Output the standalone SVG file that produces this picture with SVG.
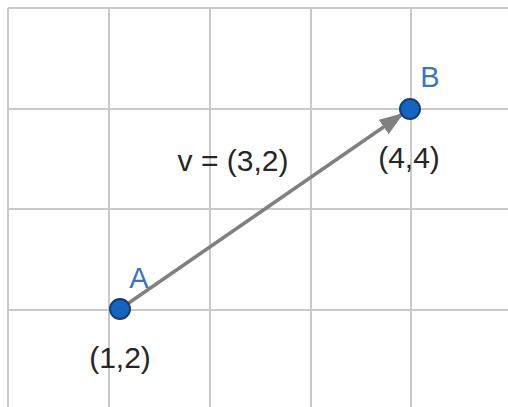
<svg xmlns="http://www.w3.org/2000/svg" width="508" height="407" viewBox="0 0 508 407">
<defs>
<style>
.grid{stroke:#c9c9c9;stroke-width:2;fill:none}
.lbl{font-family:"Liberation Sans",Arial,sans-serif;font-size:30px;fill:#262626}
.name{font-family:"Liberation Sans",Arial,sans-serif;font-size:29px;fill:#3c74c2}
.pt{fill:#1565c0;stroke:#173d73;stroke-width:2}
.vec{stroke:#808080;stroke-width:3.5;fill:none}
</style>
<marker id="ah" markerWidth="7" markerHeight="5" refX="6" refY="2.5" orient="auto" markerUnits="strokeWidth">
<path d="M0,0 L7,2.5 L0,5 Z" fill="#808080"/>
</marker>
</defs>
<rect width="508" height="407" fill="#ffffff"/>
<g id="grid">
<path class="grid" d="M8,8 V407 M109,8 V407 M210,8 V407 M311,8 V407 M411,8 V407 M8,8 H508 M8,109 H508 M8,209 H508 M8,310 H508"/>
</g>
<g id="connectors">
<line class="vec" x1="120" y1="309" x2="401" y2="115" marker-end="url(#ah)"/>
</g>
<g id="label-v">
<text class="lbl" x="233" y="171" text-anchor="middle">v = (3,2)</text>
</g>
<g id="point-A">
<circle class="pt" cx="120" cy="309" r="10"/>
<text class="name" x="139" y="288" text-anchor="middle">A</text>
<text class="lbl" x="120" y="368" text-anchor="middle">(1,2)</text>
</g>
<g id="point-B">
<circle class="pt" cx="410" cy="109" r="10"/>
<text class="name" x="430" y="87" text-anchor="middle">B</text>
<text class="lbl" x="409" y="168" text-anchor="middle">(4,4)</text>
</g>
</svg>
